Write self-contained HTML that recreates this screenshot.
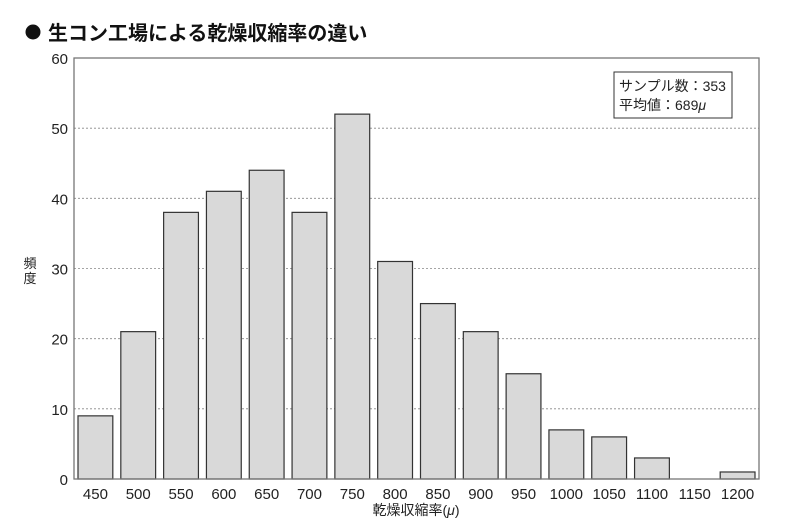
<!DOCTYPE html>
<html><head><meta charset="utf-8"><style>
body{margin:0;background:#fff;width:800px;height:524px;overflow:hidden}
svg text{font-family:"Liberation Sans","Noto Sans CJK JP",sans-serif;fill:#222}
</style></head><body>
<svg width="800" height="524">
<circle cx="33" cy="32" r="7.5" fill="#111"/>
<text x="48" y="40" font-size="20" font-weight="bold" style="fill:#111">生コン工場による乾燥収縮率の違い</text>
<g id="grid"></g><g id="bars"></g><g id="ticks"></g>
<rect x="74" y="58" width="685" height="421" fill="none" stroke="#777" stroke-width="1.3"/>
<text x="30" y="268" font-size="13" text-anchor="middle"><tspan x="30" dy="0">頻</tspan><tspan x="30" dy="15">度</tspan></text>
<text x="416" y="515" font-size="14" text-anchor="middle">乾燥収縮率(<tspan font-style="italic">μ</tspan>)</text>
<g>
<rect x="614" y="72" width="118" height="46" fill="#fff" stroke="#333" stroke-width="1"/>
<text x="619" y="91" font-size="14">サンプル数：353</text>
<text x="619" y="110" font-size="14">平均値：689<tspan font-style="italic">μ</tspan></text>
</g>
</svg>
<script>
const categories=["450","500","550","600","650","700","750","800","850","900","950","1000","1050","1100","1150","1200"];
const counts=[9,21,38,41,44,38,52,31,25,21,15,7,6,3,0,1];
const yTicks=[0,10,20,30,40,50,60];
const NS="http://www.w3.org/2000/svg";
const L=74,R=759,T=58,B=479,yMax=60;
const y=v=>B-(B-T)*v/yMax;
const slot=(R-L)/categories.length;
const x=i=>L+i*slot;
function mk(tag,attrs,parent){const e=document.createElementNS(NS,tag);for(const k in attrs)e.setAttribute(k,attrs[k]);document.getElementById(parent).appendChild(e);return e;}
yTicks.forEach(t=>{
  if(t>0&&t<yMax){const g=mk('line',{x1:L,x2:R,y1:y(t),y2:y(t),stroke:'#888','stroke-dasharray':'2,2','stroke-width':0.8},'grid');
  
  }
  const tx=mk('text',{x:L-6,y:y(t)+6,'font-size':15,'text-anchor':'end'},'ticks');tx.textContent=t;
  
  
});
categories.forEach((c,i)=>{
  if(counts[i]>0){const r=mk('rect',{x:x(i)+4,y:y(counts[i]),width:slot-8,height:B-y(counts[i]),fill:'#d9d9d9',stroke:'#333','stroke-width':1.2},'bars');
  
  }
  const tx=mk('text',{x:x(i)+slot/2,y:B+20,'font-size':15,'text-anchor':'middle'},'ticks');tx.textContent=c;
  
  
});
</script>
</body></html>
